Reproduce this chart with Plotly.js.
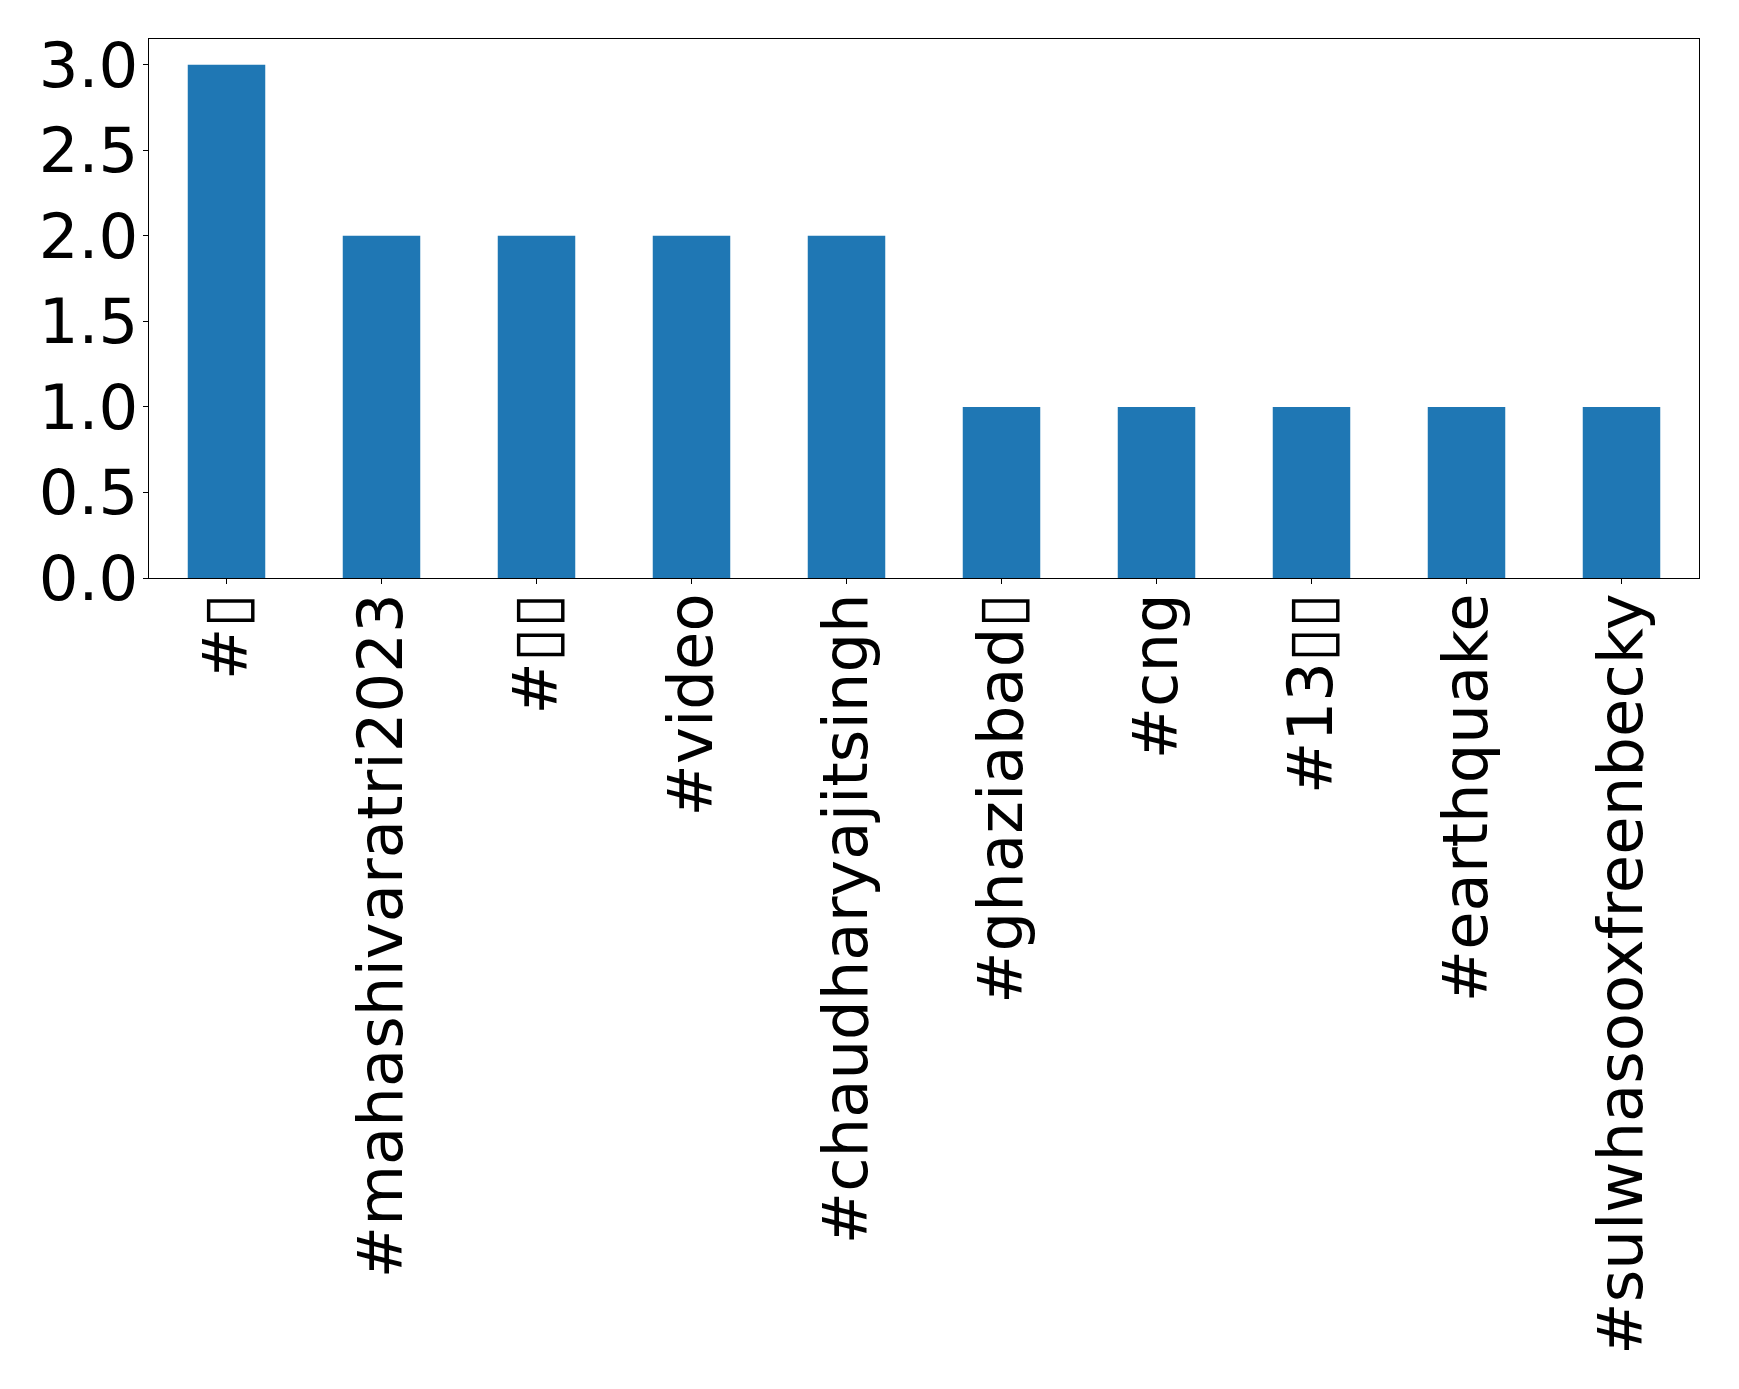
<!DOCTYPE html>
<html>
<head>
<meta charset="utf-8">
<script src="https://cdn.plot.ly/plotly-3.0.1.min.js"></script>
<style>html,body{margin:0;padding:0;background:#fff;}#chart{width:1739px;height:1389px;}</style>
</head>
<body>
<div id="chart"></div>
<script>
const hashtags = ["#▯", "#mahashivaratri2023", "#▯▯", "#video", "#chaudharyajitsingh", "#ghaziabad▯", "#cng", "#13▯▯", "#earthquake", "#sulwhasooxfreenbecky"];
const counts = [3, 2, 2, 2, 2, 1, 1, 1, 1, 1];
const yTickValues = [0, 0.5, 1, 1.5, 2, 2.5, 3];
const yTickLabels = ["0.0", "0.5", "1.0", "1.5", "2.0", "2.5", "3.0"];

const trace = {
  type: "bar",
  x: hashtags,
  y: counts,
  width: 0.5,
  marker: {color: "#1f77b4", line: {width: 0}},
  hoverinfo: "x+y"
};

const axisFont = {family: "DejaVu Sans", size: 62.5, color: "#000"};

const layout = {
  width: 1739,
  height: 1389,
  margin: {l: 149, r: 40, t: 39, b: 811, pad: 0},
  paper_bgcolor: "#fff",
  plot_bgcolor: "#fff",
  showlegend: false,
  bargap: 0.5,
  xaxis: {
    type: "category",
    range: [-0.5, hashtags.length - 0.5],
    tickangle: -90,
    tickfont: axisFont,
    ticks: "outside",
    ticklen: 5,
    tickwidth: 1,
    tickcolor: "#000",
    showline: true,
    linecolor: "#000",
    linewidth: 1.3,
    mirror: true,
    showgrid: false,
    zeroline: false,
    automargin: false,
    ticklabelstandoff: -16
  },
  yaxis: {
    range: [0, 3.15],
    tickmode: "array",
    tickvals: yTickValues,
    ticktext: yTickLabels,
    tickfont: axisFont,
    ticks: "outside",
    ticklen: 5,
    tickwidth: 1,
    tickcolor: "#000",
    showline: true,
    linecolor: "#000",
    linewidth: 1.3,
    mirror: true,
    showgrid: false,
    zeroline: false,
    automargin: false,
    ticklabelstandoff: -8
  }
};

Plotly.newPlot("chart", [trace], layout, {staticPlot: true, displayModeBar: false});
</script>
</body>
</html>
